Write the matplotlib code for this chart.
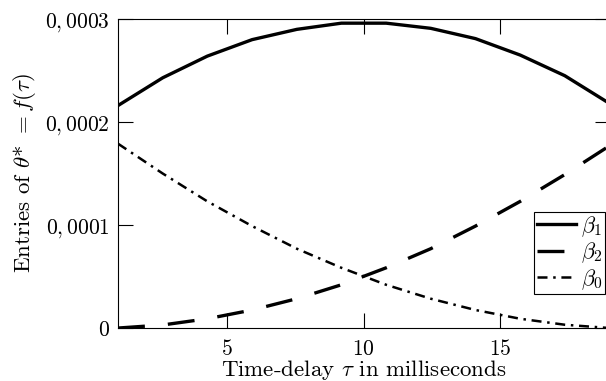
import numpy as np
import matplotlib
matplotlib.use("Agg")
import matplotlib.pyplot as plt
from matplotlib.ticker import FixedLocator, FixedFormatter

plt.rcParams['font.family'] = 'serif'
plt.rcParams['font.serif'] = ['cmr10']
plt.rcParams['mathtext.fontset'] = 'cm'
plt.rcParams['axes.formatter.use_mathtext'] = True
plt.rcParams['lines.scale_dashes'] = False

# time-delay grid (ms)
tau = [1.0, 2.64, 4.27, 5.91, 7.55, 9.18, 10.82, 12.45, 14.09, 15.73, 17.36, 19.0]

# entries of theta* for each delay
beta1 = [2.16e-4, 2.43e-4, 2.64e-4, 2.80e-4, 2.90e-4, 2.96e-4,
         2.96e-4, 2.91e-4, 2.81e-4, 2.65e-4, 2.45e-4, 2.18e-4]
beta2 = [0.0, 0.03e-4, 0.09e-4, 0.175e-4, 0.285e-4, 0.42e-4,
         0.585e-4, 0.77e-4, 0.99e-4, 1.23e-4, 1.49e-4, 1.77e-4]
beta0 = [1.79e-4, 1.50e-4, 1.23e-4, 0.99e-4, 0.77e-4, 0.585e-4,
         0.42e-4, 0.285e-4, 0.175e-4, 0.09e-4, 0.032e-4, 0.0]

xticks = [5, 10, 15]
yticks = [0, 1e-4, 2e-4, 3e-4]
ytick_labels = ['$0$', '$0,0001$', '$0,0002$', '$0,0003$']

fig = plt.figure(figsize=(6.06, 3.81), dpi=100)
ax = fig.add_axes([0.1947, 0.139, 0.8112, 0.811])

ax.plot(tau, beta1, color='black', lw=2.4, label=r'$\beta_1$')
ax.plot(tau, beta2, color='black', lw=2.4, dashes=(19.4, 16.6), label=r'$\beta_2$')
ax.plot(tau, beta0, color='black', lw=1.8, dashes=(7.2, 4.1, 1.8, 4.1), label=r'$\beta_0$')

ax.set_xlim(1, 19)
ax.set_ylim(0, 3e-4)

ax.xaxis.set_major_locator(FixedLocator(xticks))
ax.xaxis.set_major_formatter(FixedFormatter(['$%d$' % t for t in xticks]))
ax.yaxis.set_major_locator(FixedLocator(yticks))
ax.yaxis.set_major_formatter(FixedFormatter(ytick_labels))
ax.tick_params(axis='both', direction='in', length=11, width=0.8,
               labelsize=15.5, top=True, right=True)
ax.tick_params(axis='x', pad=8)
ax.tick_params(axis='y', pad=6)
for s in ax.spines.values():
    s.set_linewidth(0.8)

ax.set_xlabel(r'Time-delay $\tau$ in milliseconds', fontsize=16.5)
ax.set_ylabel(r'Entries of $\theta$* $= f(\tau)$', fontsize=16.5)
ax.xaxis.set_label_coords(0.5, -0.096)
ax.yaxis.set_label_coords(-0.163, 0.5)

leg = ax.legend(loc='upper left', bbox_to_anchor=(534 / 606, 1 - 211.5 / 381),
                bbox_transform=fig.transFigure, fontsize=16, fancybox=False,
                framealpha=1, edgecolor='black', handlelength=1.75,
                handletextpad=0.23, labelspacing=0.08, borderpad=0.12,
                borderaxespad=0)
leg.get_frame().set_linewidth(0.8)

fig.savefig('out.png', dpi=100)
